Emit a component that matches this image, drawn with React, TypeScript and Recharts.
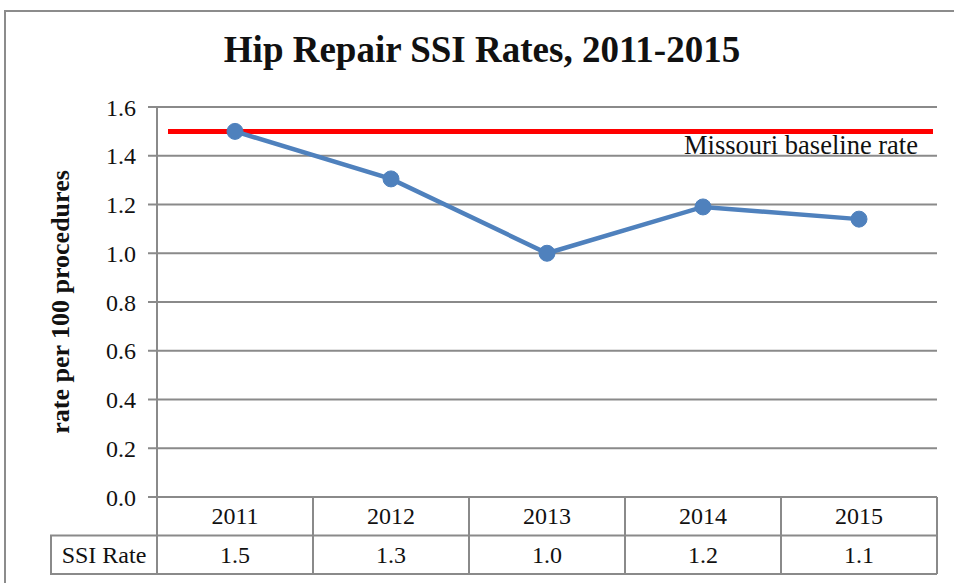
import { LineChart, Line, XAxis, YAxis, CartesianGrid, ReferenceLine, Label } from 'recharts';

const years = ['2011', '2012', '2013', '2014', '2015'];
const ssiRates = [1.5, 1.305, 1.0, 1.19, 1.14];
const baselineRate = 1.5;
const yTicks = [0, 0.2, 0.4, 0.6, 0.8, 1.0, 1.2, 1.4, 1.6];

const data = years.map((year, i) => ({ year, rate: ssiRates[i] }));

const W = 954;
const H = 583;
const M = { top: 107, right: 17, bottom: 0, left: 0 };
const Y_AXIS_W = 157;
const X_AXIS_H = 86;
const CELL_W = (W - Y_AXIS_W - M.right) / years.length;
const ROW_H = 38.5;
const LABEL_CELL_W = 106;

const FONT = '"Liberation Serif", "Times New Roman", serif';
const GRID = '#8a8a8a';
const BLUE = '#4F81BD';

// data table under the plot, drawn one column per x tick
function TableTick(props: any) {
  const { x, y, payload } = props;
  const i = payload.index;
  const left = x - CELL_W / 2;
  const right = x + CELL_W / 2;
  return (
    <g>
      <text x={x} y={y + ROW_H / 2 + 8} textAnchor="middle" fontFamily={FONT} fontSize={24} fill="#111">
        {payload.value}
      </text>
      <text x={x} y={y + ROW_H * 1.5 + 8} textAnchor="middle" fontFamily={FONT} fontSize={24} fill="#111">
        {ssiRates[i].toFixed(1)}
      </text>
      <line x1={right} x2={right} y1={y} y2={y + ROW_H * 2} stroke={GRID} strokeWidth={2} />
      <line x1={left} x2={right} y1={y + ROW_H} y2={y + ROW_H} stroke={GRID} strokeWidth={2} />
      <line x1={left} x2={right} y1={y + ROW_H * 2} y2={y + ROW_H * 2} stroke={GRID} strokeWidth={2} />
      {i === 0 && (
        <g>
          <line x1={left} x2={left} y1={y} y2={y + ROW_H * 2} stroke={GRID} strokeWidth={2} />
          <rect x={left - LABEL_CELL_W} y={y + ROW_H} width={LABEL_CELL_W} height={ROW_H} fill="none" stroke={GRID} strokeWidth={2} />
          <text x={left - LABEL_CELL_W / 2} y={y + ROW_H * 1.5 + 8} textAnchor="middle" fontFamily={FONT} fontSize={24} fill="#111">
            SSI Rate
          </text>
        </g>
      )}
    </g>
  );
}

function YTitle(props: any) {
  const vb = props.viewBox || { x: 0, y: 0, width: 0, height: 0 };
  const cx = 60;
  const cy = vb.y + vb.height / 2;
  return (
    <text x={cx} y={cy} transform={`rotate(-90 ${cx} ${cy})`} textAnchor="middle" dominantBaseline="central"
      fontFamily={FONT} fontWeight="bold" fontSize={26} fill="#111">
      rate per 100 procedures
    </text>
  );
}

function BaselineLabel(props: any) {
  const vb = props.viewBox || { x: 0, y: 0, width: 0 };
  return (
    <text x={vb.x + vb.width - 19} y={vb.y + 23} textAnchor="end" fontFamily={FONT} fontSize={26.5} fill="#111">
      Missouri baseline rate
    </text>
  );
}

function BaselineShape(props: any) {
  return <line x1={props.x1 + 11} x2={props.x2 - 4} y1={props.y1} y2={props.y2} stroke="#FF0000" strokeWidth={5} />;
}

export default function App() {
  return (
    <div style={{ position: 'fixed', left: 0, top: 0, width: W, height: H, overflow: 'hidden', background: '#fff' }}>
      <div style={{ position: 'absolute', left: 4, top: 10, width: 980, height: 620, border: '2px solid #8c8c8c' }} />
      <div
        style={{
          position: 'absolute', left: 0, top: 28, width: 964, textAlign: 'center',
          fontFamily: FONT, fontWeight: 'bold', fontSize: 37, lineHeight: '44px', color: '#111',
        }}
      >
        Hip Repair SSI Rates, 2011-2015
      </div>
      <div style={{ position: 'absolute', left: 0, top: 0 }}>
        <LineChart width={W} height={H} data={data} margin={M}>
          <CartesianGrid vertical={false} stroke={GRID} strokeWidth={2} />
          <XAxis
            dataKey="year"
            scale="band"
            height={X_AXIS_H}
            axisLine={{ stroke: GRID, strokeWidth: 2 }}
            tickLine={false}
            tickSize={0}
            tickMargin={0}
            interval={0}
            tick={<TableTick />}
          />
          <YAxis
            width={Y_AXIS_W}
            domain={[0, 1.6]}
            ticks={yTicks}
            tickFormatter={(v: number) => v.toFixed(1)}
            axisLine={{ stroke: GRID, strokeWidth: 2 }}
            tickLine={{ stroke: GRID, strokeWidth: 2 }}
            tickSize={9}
            tickMargin={12}
            tick={{ fontFamily: FONT, fontSize: 24, fill: '#111' }}
          >
            <Label content={<YTitle />} />
          </YAxis>
          <ReferenceLine y={baselineRate} shape={<BaselineShape />} isFront={false}>
            <Label content={<BaselineLabel />} />
          </ReferenceLine>
          <Line
            dataKey="rate"
            stroke={BLUE}
            strokeWidth={4.5}
            dot={{ r: 8, fill: BLUE, stroke: BLUE, strokeWidth: 1 }}
            activeDot={false}
            isAnimationActive={false}
          />
        </LineChart>
      </div>
    </div>
  );
}
